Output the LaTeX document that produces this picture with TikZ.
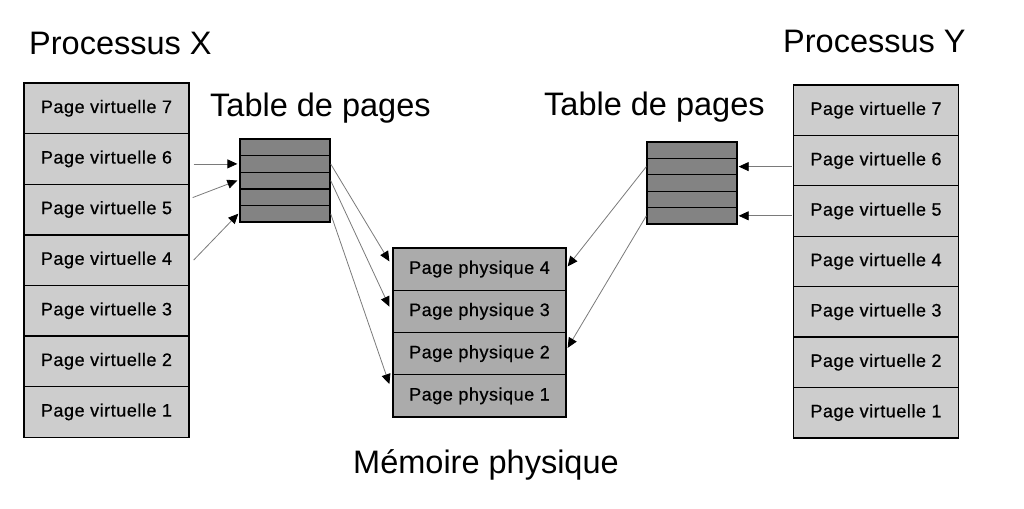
\documentclass[tikz,border=0pt]{standalone}
\usepackage{fontspec}
\setmainfont{Liberation Sans}
\usetikzlibrary{arrows.meta,calc}
\definecolor{vfill}{HTML}{CDCDCD}
\definecolor{pfill}{HTML}{ABABAB}
\definecolor{tfill}{HTML}{838383}
\definecolor{lgray}{HTML}{7A7A7A}
\begin{document}
\begin{tikzpicture}[x=1pt,y=-1pt,
  title/.style={anchor=base west,inner sep=0pt,font=\fontsize{32.5}{38}\selectfont},
  pagetxt/.style={font=\fontsize{18}{21}\selectfont\addfontfeature{LetterSpace=3,FakeBold=0.6}},
  vpage/.style={draw=black,line width=1.3pt,fill=vfill,minimum width=165pt,minimum height=50.5pt,inner sep=0pt,pagetxt},
  ppage/.style={draw=black,line width=1.3pt,fill=pfill,minimum width=173pt,minimum height=42.25pt,inner sep=0pt,pagetxt},
  trow/.style={draw=black,line width=1.3pt,fill=tfill,minimum width=90pt,minimum height=16.5pt,inner sep=0pt},
  conn/.style={draw=lgray,line width=0.8pt,-{Triangle[length=10pt,width=9pt,color=black]}}]
\useasboundingbox (0,0) rectangle (1024,508);
% titles
\node[title] (tpx) at (29,55) {Processus X};
\node[title] (tpy) at (783,53) {Processus Y};
\node[title] (ttx) at (210,117) {Table de pages};
\node[title] (tty) at (544,116) {Table de pages};
\node[title,anchor=base] (tmem) at (486,473) {Mémoire physique};
% process X pages
\foreach \k in {0,...,6}{
  \pgfmathtruncatemacro\n{7-\k}
  \node[vpage] (xv\n) at (106.5,{83+50.6*(\k+0.5)}) {Page virtuelle \n};
}
% process Y pages
\foreach \k in {0,...,6}{
  \pgfmathtruncatemacro\n{7-\k}
  \node[vpage] (yv\n) at (876,{85+50.4*(\k+0.5)}) {Page virtuelle \n};
}
% physical memory
\foreach \k in {0,...,3}{
  \pgfmathtruncatemacro\n{4-\k}
  \node[ppage] (pp\n) at (479.5,{248+42.25*(\k+0.5)}) {Page physique \n};
}
% page tables
\foreach \k in {1,...,5}{
  \node[trow] (xt\k) at (285,{139+16.6*(\k-0.5)}) {};
  \node[trow] (yt\k) at (692,{142+16.4*(\k-0.5)}) {};
}
% connectors X
\draw[conn] ($(xv6.east |- xt2.west)+(4,0)$) -- ($(xt2.west)+(-2,0)$);
\draw[conn] ($(xv5.north east)+(3,14)$) -- ($(xt3.west)+(-2,0)$);
\draw[conn] ($(xv4.east)+(4,0)$) -- ($(xt5.west)+(-1,0)$);
% connectors Y
\draw[conn] ($(yv6.west |- yt2.east)+(-1,0)$) -- ($(yt2.east)+(1,0)$);
\draw[conn] ($(yv5.west |- yt5.east)+(-1,0)$) -- ($(yt5.east)+(1,0)$);
% tables to physical memory
\draw[conn] (xt2.east) -- ($(pp4.north west)+(-3,14)$);
\draw[conn] (xt3.east) -- ($(pp3.north west)+(-3,17)$);
\draw[conn] (xt5.east) -- ($(pp1.north west)+(-3,10)$);
\draw[conn] (yt2.west) -- ($(pp4.north east)+(1,19)$);
\draw[conn] (yt5.west) -- ($(pp2.north east)+(1,16)$);
\end{tikzpicture}
\end{document}
